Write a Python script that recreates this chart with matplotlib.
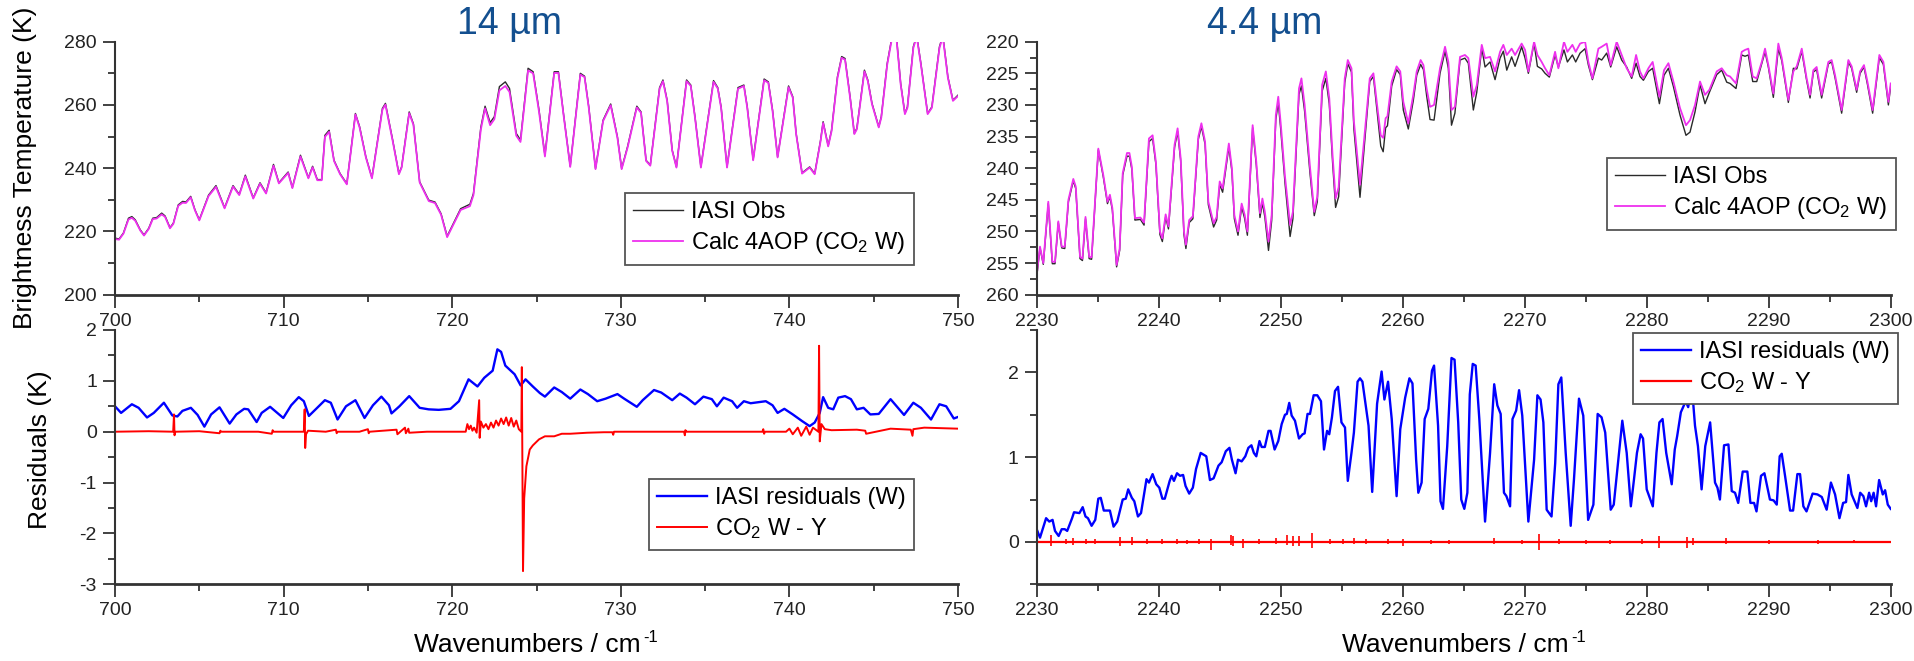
import matplotlib
matplotlib.use('Agg')
import matplotlib.pyplot as plt
from matplotlib.ticker import MultipleLocator

plt.rcParams['font.family'] = ['Liberation Sans', 'DejaVu Sans']
plt.rcParams['mathtext.default'] = 'regular'
plt.rcParams['axes.unicode_minus'] = False

# ---- 14 um brightness temperatures (700-750 cm-1) ----
tl_wn = [700.0, 700.24, 700.5, 700.8, 701.0, 701.2, 701.5, 701.72, 702.0, 702.24,
         702.47, 702.77, 702.97, 703.26, 703.46, 703.75, 704.01, 704.21, 704.49, 704.74,
         705.0, 705.55, 705.99, 706.5, 707.0, 707.37, 707.73, 708.2, 708.6, 708.96,
         709.4, 709.72, 710.27, 710.52, 711.0, 711.47, 711.72, 712.0, 712.26, 712.45,
         712.7, 712.99, 713.35, 713.75, 714.26, 714.51, 714.88, 715.24, 715.86, 716.04,
         716.47, 716.84, 717.0, 717.45, 717.7, 718.07, 718.61, 718.98, 719.34, 719.7,
         720.5, 721.05, 721.26, 721.7, 721.95, 722.25, 722.5, 722.8, 723.15, 723.4,
         723.8, 724.05, 724.5, 724.8, 725.15, 725.5, 726.05, 726.3, 726.6, 727.0,
         727.6, 727.85, 728.1, 728.5, 728.95, 729.4, 729.8, 730.05, 730.4, 730.95,
         731.2, 731.5, 731.75, 732.3, 732.5, 732.75, 733.05, 733.3, 733.9, 734.15,
         734.4, 734.75, 735.5, 735.75, 735.95, 736.3, 736.95, 737.3, 737.5, 737.85,
         738.5, 738.75, 739.0, 739.3, 739.95, 740.2, 740.4, 740.75, 741.2, 741.5,
         741.85, 742.0, 742.3, 742.5, 742.85, 743.1, 743.3, 743.6, 743.85, 744.0,
         744.45, 744.65, 744.9, 745.3, 745.45, 745.8, 746.1, 746.35, 746.6, 746.85,
         747.0, 747.35, 747.55, 747.8, 748.2, 748.45, 748.9, 749.1, 749.4, 749.7,
         750.0]
tl_obs = [217.9, 217.6, 219.5, 224.2, 224.7, 223.7, 220.5, 218.9, 221.0, 224.2,
          224.4, 225.8, 224.9, 221.2, 222.6, 228.4, 229.5, 229.3, 231.1, 226.9,
          223.7, 231.5, 234.5, 227.5, 234.5, 231.7, 237.8, 230.6, 235.4, 232.2,
          241.2, 235.4, 238.8, 233.9, 244.1, 237.0, 240.6, 236.4, 236.4, 250.4,
          252.0, 242.5, 238.3, 235.1, 257.3, 253.1, 243.6, 237.0, 258.9, 260.5,
          248.9, 238.3, 240.4, 257.8, 254.0, 235.7, 229.9, 229.3, 225.6, 218.5,
          227.2, 228.6, 232.0, 253.0, 259.6, 254.4, 256.3, 265.8, 267.3, 265.2,
          251.0, 248.9, 271.6, 270.5, 258.4, 244.1, 270.5, 270.5, 257.3, 240.6,
          270.0, 269.1, 259.4, 239.9, 255.2, 260.3, 249.9, 239.9, 246.8, 259.6,
          257.8, 242.5, 241.0, 265.5, 267.9, 261.5, 245.7, 240.4, 267.9, 266.3,
          256.3, 240.4, 267.7, 265.5, 259.4, 240.4, 265.5, 266.3, 259.4, 242.7,
          268.2, 267.3, 258.4, 243.6, 266.0, 262.6, 251.0, 238.5, 240.4, 238.3,
          248.9, 254.7, 247.1, 252.0, 268.9, 275.3, 274.7, 262.6, 251.0, 252.6,
          271.0, 267.9, 260.5, 253.1, 256.3, 273.1, 282.0, 281.5, 266.8, 257.3,
          259.4, 278.4, 282.0, 273.1, 257.3, 259.4, 278.4, 282.0, 268.9, 261.5,
          263.1]
tl_calc = [217.6, 217.4, 219.3, 223.8, 224.3, 223.4, 220.3, 218.7, 220.8, 223.9,
           224.1, 225.4, 224.6, 221.0, 222.4, 228.1, 229.1, 229.0, 230.8, 226.7,
           223.5, 231.2, 234.1, 227.3, 234.2, 231.5, 237.4, 230.4, 235.1, 232.0,
           240.8, 235.2, 238.5, 233.7, 243.7, 236.8, 240.3, 236.2, 236.2, 249.9,
           251.5, 242.3, 238.1, 234.9, 257.0, 252.8, 243.4, 236.8, 258.5, 260.1,
           248.6, 238.1, 240.2, 257.4, 253.7, 235.5, 229.6, 229.0, 225.3, 218.2,
           226.8, 228.0, 231.5, 252.3, 258.9, 253.6, 255.5, 264.6, 266.0, 264.1,
           250.3, 248.3, 270.9, 270.0, 257.8, 243.7, 270.1, 270.1, 257.0, 240.4,
           269.6, 268.8, 259.1, 239.7, 254.9, 259.9, 249.6, 239.7, 246.5, 259.2,
           257.5, 242.3, 240.8, 265.1, 267.5, 261.2, 245.5, 240.2, 267.5, 266.0,
           256.0, 240.2, 267.3, 265.2, 259.1, 240.2, 265.1, 266.0, 259.1, 242.5,
           267.8, 267.0, 258.1, 243.4, 265.6, 262.3, 250.8, 238.3, 240.2, 238.1,
           248.6, 254.3, 246.9, 251.7, 268.5, 274.9, 274.3, 262.3, 250.8, 252.3,
           270.6, 267.6, 260.2, 252.9, 256.0, 272.7, 281.6, 281.1, 266.5, 257.1,
           259.1, 278.0, 281.6, 272.8, 257.1, 259.1, 278.0, 281.6, 268.6, 261.3,
           262.8]

# ---- 4.4 um brightness temperatures (2230-2300 cm-1) ----
tr_wn = [2230.0, 2230.27, 2230.54, 2230.95, 2231.28, 2231.5, 2231.77, 2232.05, 2232.3, 2232.6,
         2233.0, 2233.2, 2233.55, 2233.75, 2234.0, 2234.3, 2234.5, 2235.05, 2235.46, 2235.8,
         2236.0, 2236.2, 2236.55, 2236.8, 2237.05, 2237.4, 2237.6, 2237.8, 2238.05, 2238.5,
         2238.8, 2239.2, 2239.5, 2239.77, 2240.1, 2240.3, 2240.57, 2240.8, 2241.3, 2241.55,
         2241.8, 2242.07, 2242.23, 2242.5, 2242.8, 2243.25, 2243.5, 2243.8, 2244.07, 2244.5,
         2244.75, 2245.0, 2245.24, 2245.75, 2246.0, 2246.2, 2246.5, 2246.8, 2247.05, 2247.27,
         2247.7, 2248.0, 2248.3, 2248.5, 2248.7, 2249.0, 2249.26, 2249.6, 2249.8, 2250.0,
         2250.35, 2250.77, 2251.0, 2251.5, 2251.7, 2251.96, 2252.4, 2252.75, 2253.0, 2253.4,
         2253.7, 2253.98, 2254.25, 2254.5, 2254.75, 2255.25, 2255.5, 2255.8, 2256.0, 2256.5,
         2257.3, 2257.6, 2257.9, 2258.2, 2258.4, 2258.6, 2258.75, 2259.1, 2259.5, 2259.8,
         2260.05, 2260.46, 2260.87, 2261.15, 2261.47, 2261.7, 2261.96, 2262.24, 2262.57, 2263.06,
         2263.47, 2263.74, 2264.0, 2264.28, 2264.7, 2265.1, 2265.38, 2265.79, 2266.07, 2266.48,
         2266.75, 2267.16, 2267.57, 2267.98, 2268.25, 2268.53, 2268.93, 2269.21, 2269.75, 2270.03,
         2270.3, 2270.77, 2271.04, 2271.39, 2271.67, 2272.02, 2272.49, 2272.76, 2273.22, 2273.5,
         2273.91, 2274.18, 2274.54, 2274.95, 2275.22, 2275.55, 2276.04, 2276.31, 2276.72, 2277.05,
         2277.54, 2277.95, 2278.36, 2278.77, 2279.13, 2279.45, 2279.73, 2280.14, 2280.49, 2281.04,
         2281.42, 2281.78, 2282.19, 2282.73, 2283.22, 2283.55, 2283.96, 2284.37, 2284.78, 2285.14,
         2285.74, 2286.15, 2286.56, 2286.83, 2287.32, 2287.79, 2288.06, 2288.33, 2288.69, 2289.02,
         2289.43, 2289.7, 2289.97, 2290.38, 2290.79, 2291.07, 2291.61, 2292.02, 2292.3, 2292.71,
         2293.11, 2293.39, 2293.66, 2293.93, 2294.34, 2294.89, 2295.16, 2295.44, 2295.98, 2296.53,
         2296.8, 2297.21, 2297.49, 2297.81, 2298.09, 2298.52, 2299.07, 2299.4, 2299.81, 2300.0]
tr_calc = [256.9, 252.4, 255.0, 245.3, 254.8, 254.8, 248.4, 252.4, 252.4, 245.0,
           241.7, 242.9, 254.0, 254.3, 247.7, 254.0, 254.1, 236.9, 241.1, 245.3,
           244.2, 246.3, 255.3, 252.7, 240.8, 237.6, 237.6, 239.8, 247.9, 247.8,
           248.6, 235.3, 234.8, 239.0, 250.0, 251.1, 247.3, 249.2, 236.3, 233.7,
           238.4, 250.0, 252.1, 248.2, 247.6, 235.0, 232.9, 235.8, 245.3, 248.7,
           247.7, 242.1, 243.2, 236.1, 240.0, 247.4, 250.0, 245.6, 247.4, 250.0,
           233.2, 239.0, 247.1, 244.8, 246.9, 251.6, 247.4, 231.6, 228.7, 232.9,
           241.3, 249.0, 246.9, 227.4, 225.8, 230.0, 239.8, 246.9, 244.5, 226.8,
           224.7, 228.9, 237.9, 244.8, 243.0, 225.8, 222.9, 224.2, 232.6, 242.6,
           225.8, 225.0, 230.0, 234.8, 235.2, 232.1, 231.8, 226.3, 223.9, 224.7,
           229.5, 232.9, 228.4, 224.7, 222.9, 223.7, 227.4, 230.3, 230.0, 224.2,
           220.8, 223.2, 230.8, 230.3, 222.4, 222.1, 222.6, 228.7, 226.9, 220.5,
           222.6, 222.4, 224.7, 221.6, 220.5, 222.1, 221.1, 222.1, 220.3, 221.3,
           224.7, 220.0, 222.1, 223.2, 224.2, 225.3, 221.6, 224.2, 220.0, 221.6,
           220.5, 221.6, 220.3, 220.0, 223.2, 225.8, 221.1, 220.8, 220.3, 223.7,
           220.0, 222.1, 224.2, 225.5, 222.1, 224.7, 225.8, 224.2, 223.2, 228.7,
           224.5, 223.4, 226.3, 230.5, 233.2, 232.4, 230.0, 226.3, 228.4, 227.6,
           224.7, 224.2, 225.3, 225.5, 226.6, 221.6, 221.3, 221.1, 225.5, 225.8,
           223.2, 221.1, 223.7, 228.2, 220.3, 222.6, 229.2, 224.7, 223.9, 221.1,
           225.8, 228.4, 224.5, 224.0, 228.4, 223.2, 222.9, 225.3, 230.8, 222.9,
           223.9, 227.6, 224.7, 223.7, 226.3, 230.8, 222.1, 223.2, 229.5, 226.6]
tr_obs = [257.2, 252.6, 255.2, 245.6, 255.1, 255.1, 248.6, 252.6, 252.7, 245.3,
          242.0, 243.2, 254.3, 254.6, 248.0, 254.3, 254.4, 237.1, 241.4, 245.6,
          244.5, 246.6, 255.6, 253.0, 241.1, 238.1, 238.1, 240.2, 248.2, 248.1,
          249.0, 235.8, 235.3, 239.4, 250.5, 251.6, 247.7, 249.6, 236.7, 234.2,
          238.8, 250.5, 252.7, 248.6, 248.0, 235.4, 233.4, 236.2, 245.8, 249.3,
          248.2, 242.6, 243.8, 236.6, 240.5, 248.0, 250.6, 246.1, 248.0, 250.6,
          233.6, 239.5, 247.8, 245.5, 247.7, 253.0, 248.3, 232.3, 229.6, 233.8,
          242.3, 250.8, 248.0, 228.3, 227.0, 231.0, 240.8, 247.5, 245.3, 227.8,
          225.8, 229.8, 239.0, 246.2, 244.5, 226.5, 223.5, 224.8, 233.8, 244.6,
          226.3, 225.5, 231.0, 236.5, 237.4, 233.6, 233.3, 227.0, 224.4, 225.2,
          230.8, 233.8, 229.3, 225.3, 223.6, 224.4, 228.5, 232.3, 232.4, 225.0,
          221.5, 224.2, 233.2, 231.3, 222.9, 222.6, 223.4, 230.8, 228.0, 221.0,
          224.0, 223.2, 226.0, 222.6, 221.5, 224.5, 222.4, 223.9, 220.8, 222.6,
          225.0, 220.2, 223.9, 224.3, 225.0, 225.6, 222.1, 224.0, 221.3, 223.2,
          222.1, 223.2, 221.8, 221.1, 223.7, 226.0, 222.6, 222.9, 221.8, 224.0,
          220.8, 222.9, 224.0, 225.8, 223.4, 225.5, 226.1, 224.7, 224.2, 229.8,
          225.3, 224.2, 227.1, 231.6, 234.8, 234.3, 231.1, 226.8, 229.8, 228.0,
          225.2, 224.5, 226.4, 226.6, 227.4, 222.1, 222.3, 222.1, 226.3, 226.3,
          223.5, 221.6, 224.0, 228.8, 221.1, 223.0, 229.6, 224.2, 224.3, 221.5,
          226.1, 228.9, 224.8, 224.4, 228.9, 223.5, 223.2, 225.7, 231.3, 223.2,
          224.2, 228.0, 225.0, 224.0, 226.7, 231.3, 222.5, 223.6, 230.0, 227.0]

# ---- 14 um residuals ----
bl_wn = [700.0, 700.36, 701.0, 701.4, 701.9, 702.3, 702.9, 703.4, 703.7, 704.0,
         704.5, 704.9, 705.3, 705.7, 706.2, 706.8, 707.2, 707.66, 707.9, 708.4,
         708.7, 709.2, 709.98, 710.45, 710.9, 711.2, 711.5, 711.9, 712.45, 712.8,
         713.2, 713.7, 714.26, 714.8, 715.3, 715.8, 716.25, 716.4, 716.87, 717.45,
         718.07, 718.6, 719.2, 719.9, 720.4, 720.97, 721.5, 721.9, 722.4, 722.68,
         722.9, 723.15, 723.7, 724.06, 724.35, 724.78, 725.2, 725.5, 726.05, 726.5,
         727.0, 727.6, 728.05, 728.6, 729.1, 729.8, 730.2, 730.95, 731.3, 731.97,
         732.4, 733.05, 733.5, 733.9, 734.4, 734.9, 735.4, 735.7, 736.1, 736.6,
         736.9, 737.3, 737.7, 738.6, 739.0, 739.3, 739.7, 740.2, 740.75, 741.2,
         741.5, 741.8, 742.0, 742.3, 742.6, 742.9, 743.3, 743.65, 744.0, 744.4,
         744.8, 745.3, 746.0, 746.8, 747.35, 747.8, 748.4, 748.9, 749.3, 749.75,
         750.0]
bl_iasi = [0.50, 0.37, 0.54, 0.47, 0.28, 0.37, 0.57, 0.32, 0.30, 0.41,
           0.47, 0.33, 0.10, 0.34, 0.48, 0.16, 0.34, 0.45, 0.44, 0.19,
           0.37, 0.49, 0.27, 0.52, 0.68, 0.60, 0.31, 0.44, 0.62, 0.57,
           0.24, 0.50, 0.62, 0.27, 0.52, 0.69, 0.52, 0.36, 0.50, 0.70,
           0.47, 0.44, 0.43, 0.45, 0.60, 1.03, 0.89, 1.06, 1.20, 1.62,
           1.57, 1.30, 1.13, 0.91, 1.03, 0.89, 0.76, 0.69, 0.87, 0.78,
           0.65, 0.83, 0.74, 0.60, 0.65, 0.74, 0.65, 0.49, 0.62, 0.82,
           0.77, 0.62, 0.75, 0.67, 0.54, 0.69, 0.64, 0.50, 0.67, 0.60,
           0.47, 0.60, 0.56, 0.60, 0.52, 0.37, 0.45, 0.34, 0.21, 0.11,
           0.18, 0.37, 0.68, 0.47, 0.44, 0.67, 0.70, 0.64, 0.44, 0.47,
           0.34, 0.35, 0.64, 0.33, 0.57, 0.47, 0.24, 0.54, 0.50, 0.26,
           0.29]
bl_diff_wn = [700.0, 702.0, 703.45, 703.5, 703.53, 703.58, 705.0, 706.2, 706.25, 706.3,
              708.5, 709.3, 709.35, 709.4, 711.2, 711.25, 711.28, 711.33, 711.45, 712.5,
              713.1, 713.15, 713.2, 714.5, 715.0, 715.05, 715.1, 716.7, 716.75, 717.2,
              717.25, 717.4, 717.45, 718.5, 720.8, 720.9, 721.0, 721.1, 721.2, 721.3,
              721.45, 721.6, 721.63, 721.7, 721.85, 722.0, 722.15, 722.3, 722.45, 722.6,
              722.75, 722.9, 723.05, 723.2, 723.35, 723.5, 723.65, 723.8, 723.95, 724.1,
              724.13, 724.2, 724.27, 724.4, 724.6, 724.78, 725.15, 725.5, 726.05, 726.5,
              727.0, 728.0, 729.0, 729.5, 729.55, 729.6, 733.75, 733.8, 733.83, 733.9,
              738.4, 738.45, 738.5, 738.55, 739.8, 740.0, 740.2, 740.5, 740.7, 741.0,
              741.2, 741.4, 741.72, 741.76, 741.8, 741.9, 742.1, 742.5, 744.0, 744.5,
              744.55, 746.0, 747.2, 747.3, 747.35, 748.0, 749.0, 750.0]
bl_diff = [0.0, 0.01, 0.0, 0.34, -0.07, 0.0, 0.01, -0.03, 0.02, 0.0,
           0.0, -0.04, 0.03, 0.0, 0.0, 0.44, -0.32, -0.05, 0.02, 0.0,
           0.04, -0.03, 0.0, 0.0, 0.05, -0.03, 0.0, 0.04, -0.05, 0.08,
           -0.03, 0.06, -0.02, 0.0, 0.0, 0.15, 0.05, 0.12, 0.02, 0.08,
           -0.02, 0.62, -0.12, 0.2, 0.08, 0.15, 0.05, 0.18, 0.08, 0.22,
           0.12, 0.26, 0.15, 0.28, 0.12, 0.27, 0.1, 0.22, 0.05, 0.0,
           1.27, -2.74, -1.31, -0.68, -0.35, -0.27, -0.15, -0.09, -0.09, -0.04,
           -0.04, -0.02, -0.01, -0.01, -0.06, 0.0, 0.0, -0.07, 0.03, 0.0,
           0.0, 0.05, -0.04, 0.0, 0.0, 0.06, -0.05, 0.08, -0.08, 0.1,
           -0.06, 0.08, 0.0, 1.69, -0.19, 0.15, 0.05, 0.03, 0.04, 0.02,
           -0.04, 0.06, 0.04, -0.08, 0.05, 0.08, 0.07, 0.06]

# ---- 4.4 um residuals ----
br_wn = [2230.0, 2230.27, 2230.77, 2231.03, 2231.3, 2231.5, 2231.8, 2232.05, 2232.3, 2232.5,
         2232.9, 2233.06, 2233.5, 2233.77, 2234.0, 2234.2, 2234.5, 2234.8, 2235.05, 2235.25,
         2235.5, 2236.0, 2236.3, 2236.6, 2237.05, 2237.3, 2237.5, 2237.8, 2238.0, 2238.3,
         2238.55, 2239.0, 2239.2, 2239.5, 2239.8, 2240.05, 2240.3, 2240.5, 2240.9, 2241.06,
         2241.25, 2241.5, 2241.75, 2242.0, 2242.2, 2242.5, 2242.8, 2243.06, 2243.44, 2243.9,
         2244.2, 2244.5, 2244.9, 2245.16, 2245.5, 2245.8, 2246.0, 2246.3, 2246.5, 2246.8,
         2247.1, 2247.35, 2247.6, 2247.8, 2248.0, 2248.26, 2248.44, 2248.7, 2249.0, 2249.17,
         2249.5, 2249.8, 2250.08, 2250.35, 2250.5, 2250.7, 2250.9, 2251.17, 2251.5, 2251.8,
         2251.96, 2252.2, 2252.4, 2252.7, 2253.0, 2253.3, 2253.55, 2253.8, 2253.98, 2254.2,
         2254.45, 2254.7, 2254.98, 2255.27, 2255.5, 2255.8, 2256.0, 2256.3, 2256.5, 2256.7,
         2257.2, 2257.5, 2257.9, 2258.27, 2258.5, 2258.8, 2259.1, 2259.5, 2259.8, 2260.2,
         2260.55, 2260.8, 2261.1, 2261.28, 2261.55, 2261.8, 2262.1, 2262.4, 2262.57, 2262.9,
         2263.1, 2263.3, 2263.65, 2264.0, 2264.25, 2264.55, 2264.8, 2265.05, 2265.3, 2265.5,
         2265.74, 2265.98, 2266.28, 2266.75, 2267.16, 2267.5, 2267.76, 2268.03, 2268.3, 2268.5,
         2268.8, 2269.0, 2269.3, 2269.54, 2269.8, 2270.3, 2270.57, 2270.77, 2271.04, 2271.3,
         2271.53, 2271.8, 2272.2, 2272.5, 2272.76, 2273.0, 2273.36, 2273.77, 2274.04, 2274.45,
         2274.8, 2275.2, 2275.63, 2275.98, 2276.3, 2276.6, 2277.05, 2277.3, 2278.0, 2278.36,
         2278.7, 2278.96, 2279.2, 2279.5, 2279.7, 2280.0, 2280.5, 2280.8, 2281.04, 2281.3,
         2281.6, 2282.05, 2282.3, 2282.5, 2282.8, 2283.2, 2283.4, 2283.7, 2283.96, 2284.2,
         2284.5, 2284.8, 2285.2, 2285.6, 2285.8, 2286.0, 2286.34, 2286.7, 2286.97, 2287.24,
         2287.5, 2287.87, 2288.25, 2288.5, 2288.8, 2289.0, 2289.37, 2289.65, 2290.1, 2290.4,
         2290.66, 2290.9, 2291.07, 2291.34, 2291.75, 2292.0, 2292.35, 2292.57, 2292.84, 2293.1,
         2293.6, 2294.0, 2294.35, 2294.75, 2295.1, 2295.44, 2295.8, 2296.1, 2296.34, 2296.53,
         2296.8, 2297.27, 2297.5, 2297.76, 2297.98, 2298.23, 2298.4, 2298.6, 2298.8, 2299.05,
         2299.35, 2299.54, 2299.76, 2300.0]
br_iasi = [0.15, 0.05, 0.28, 0.24, 0.26, 0.13, 0.07, 0.15, 0.15, 0.13,
           0.28, 0.35, 0.34, 0.41, 0.30, 0.28, 0.19, 0.26, 0.51, 0.52,
           0.37, 0.37, 0.18, 0.24, 0.50, 0.51, 0.62, 0.52, 0.48, 0.30,
           0.34, 0.74, 0.70, 0.80, 0.68, 0.64, 0.51, 0.51, 0.72, 0.78,
           0.72, 0.81, 0.78, 0.79, 0.66, 0.57, 0.64, 0.86, 1.05, 1.01,
           0.73, 0.75, 0.90, 0.94, 1.07, 1.11, 0.97, 0.81, 0.97, 0.95,
           1.01, 1.11, 1.14, 1.05, 1.01, 1.19, 1.12, 1.12, 1.31, 1.31,
           1.09, 1.19, 1.39, 1.50, 1.51, 1.64, 1.49, 1.43, 1.22, 1.27,
           1.28, 1.51, 1.51, 1.73, 1.73, 1.66, 1.09, 1.31, 1.27, 1.47,
           1.78, 1.83, 1.41, 1.35, 0.72, 1.05, 1.29, 1.89, 1.93, 1.89,
           1.37, 0.59, 1.63, 2.01, 1.68, 1.89, 1.45, 0.54, 1.33, 1.70,
           1.93, 1.87, 0.97, 0.58, 0.70, 1.45, 1.57, 2.02, 2.08, 1.37,
           0.48, 0.39, 1.13, 2.17, 2.15, 1.41, 0.50, 0.39, 0.58, 1.74,
           2.10, 2.08, 1.45, 0.24, 1.05, 1.86, 1.61, 1.51, 0.58, 0.54,
           0.42, 1.45, 1.55, 1.79, 1.49, 0.24, 0.66, 0.97, 1.73, 1.68,
           1.41, 0.38, 0.30, 0.93, 1.86, 1.94, 1.05, 0.19, 0.74, 1.69,
           1.49, 0.26, 0.44, 1.51, 1.47, 1.29, 0.38, 0.44, 1.43, 1.05,
           0.42, 0.74, 1.05, 1.27, 1.22, 0.62, 0.42, 1.05, 1.41, 1.45,
           1.05, 0.68, 1.09, 1.25, 1.53, 1.66, 1.59, 1.84, 1.37, 1.13,
           0.62, 1.13, 1.41, 0.70, 0.64, 0.50, 1.14, 1.15, 0.60, 0.58,
           0.46, 0.83, 0.83, 0.46, 0.46, 0.36, 0.78, 0.81, 0.50, 0.49,
           0.44, 1.01, 1.04, 0.78, 0.37, 0.37, 0.80, 0.80, 0.42, 0.36,
           0.57, 0.56, 0.53, 0.38, 0.70, 0.56, 0.28, 0.46, 0.47, 0.79,
           0.56, 0.40, 0.58, 0.54, 0.42, 0.58, 0.48, 0.58, 0.42, 0.73,
           0.56, 0.61, 0.44, 0.39]
br_diff_wn = [2230.0, 2300.0]
br_diff = [0.0, 0.0]
br_spike_wn = [2231.2, 2232.4, 2233.0, 2234.0, 2234.8, 2236.8, 2237.8, 2239.0, 2240.3, 2241.5,
               2242.3, 2243.3, 2244.3, 2245.9, 2246.1, 2246.9, 2248.2, 2249.6, 2250.5, 2251.0,
               2251.5, 2252.6, 2254.0, 2255.1, 2256.0, 2257.0, 2258.8, 2260.0, 2262.3, 2263.8,
               2267.5, 2269.8, 2271.2, 2272.8, 2275.0, 2277.0, 2279.6, 2281.0, 2283.3, 2283.8,
               2286.5, 2290.0, 2294.0, 2297.0]
br_spike_lo = [-0.05, -0.02, -0.04, -0.02, -0.03, -0.05, -0.04, -0.02, -0.03, -0.02,
               -0.03, -0.03, -0.09, -0.04, -0.05, -0.07, -0.02, -0.03, -0.04, -0.05,
               -0.05, -0.07, -0.02, -0.02, -0.03, -0.02, -0.02, -0.05, -0.02, -0.02,
               -0.03, -0.02, -0.10, -0.02, -0.02, -0.02, -0.02, -0.07, -0.07, -0.04,
               -0.03, -0.02, -0.02, -0.01]
br_spike_hi = [0.08, 0.03, 0.05, 0.03, 0.03, 0.06, 0.06, 0.03, 0.03, 0.03,
               0.02, 0.04, 0.03, 0.08, 0.07, 0.04, 0.03, 0.05, 0.08, 0.07,
               0.07, 0.10, 0.03, 0.04, 0.05, 0.03, 0.03, 0.04, 0.02, 0.02,
               0.05, 0.02, 0.09, 0.03, 0.02, 0.02, 0.03, 0.07, 0.06, 0.05,
               0.05, 0.02, 0.02, 0.02]

W, H = 1915, 661
fig = plt.figure(figsize=(W / 100, H / 100), dpi=100)

# axes boxes placed in pixels
ax_tl = fig.add_axes([115 / W, 1 - 294.7 / H, 843 / W, 253 / H])
ax_tr = fig.add_axes([1036.7 / W, 1 - 294.7 / H, 854 / W, 253 / H])
ax_bl = fig.add_axes([115 / W, 1 - 584.3 / H, 843 / W, 254.3 / H])
ax_br = fig.add_axes([1036.7 / W, 1 - 584.3 / H, 854 / W, 254.3 / H])


def style(ax, xmaj, xmin, ymaj, ymin):
    for s in ['top', 'right']:
        ax.spines[s].set_visible(False)
    ax.spines['left'].set_linewidth(1.5)
    ax.spines['bottom'].set_linewidth(2.0)
    ax.spines['left'].set_color('#333333')
    ax.spines['bottom'].set_color('#333333')
    ax.xaxis.set_major_locator(MultipleLocator(xmaj))
    ax.xaxis.set_minor_locator(MultipleLocator(xmin))
    ax.yaxis.set_major_locator(MultipleLocator(ymaj))
    ax.yaxis.set_minor_locator(MultipleLocator(ymin))
    ax.tick_params(which='major', direction='out', length=9, width=1.3, color='#333333',
                   labelsize=14, labelcolor='#222222', pad=4)
    ax.tick_params(which='minor', direction='out', length=5, width=1.3, color='#333333')


def add_legend(ax, x, y):
    leg = ax.legend(loc='upper left', bbox_to_anchor=(x / W, 1 - y / H), bbox_transform=fig.transFigure,
                    fontsize=17, frameon=True, fancybox=False, framealpha=1, edgecolor='#555555',
                    borderaxespad=0, borderpad=0.35, labelspacing=0.3, handlelength=2.1,
                    handletextpad=0.35)
    leg.get_frame().set_linewidth(1.3)


def xlabel(cx, cy):
    # "Wavenumbers / cm" with a small hyphen "-1" raised after it
    renderer = fig.canvas.get_renderer()
    t = fig.text(cx / W, 1 - cy / H, 'Wavenumbers / cm', ha='center', va='center', fontsize=19)
    s = fig.text(0, 0, '-1', ha='left', va='center', fontsize=12)
    bb = t.get_window_extent(renderer)
    sw = s.get_window_extent(renderer).width
    t.set_x((cx - sw / 2 - 1) / W)
    s.set_position(((cx + bb.width / 2 - sw / 2 + 1) / W, 1 - (cy - 8) / H))


obs_color = '#2a2a2a'
calc_color = '#ee30ee'

# top left
ax_tl.plot(tl_wn, tl_obs, color=obs_color, lw=1.0, label='IASI Obs')
ax_tl.plot(tl_wn, tl_calc, color=calc_color, lw=1.3, label='Calc 4AOP (CO$_2$ W)')
ax_tl.set_xlim(700, 750)
ax_tl.set_ylim(200, 280)
style(ax_tl, 10, 5, 20, 10)
add_legend(ax_tl, 625, 193)

# top right (inverted)
ax_tr.plot(tr_wn, tr_obs, color=obs_color, lw=1.0, label='IASI Obs')
ax_tr.plot(tr_wn, tr_calc, color=calc_color, lw=1.3, label='Calc 4AOP (CO$_2$ W)')
ax_tr.set_xlim(2230, 2300)
ax_tr.set_ylim(260, 220)
style(ax_tr, 10, 5, 5, 2.5)
add_legend(ax_tr, 1607, 158)

# bottom left
ax_bl.plot(bl_wn, bl_iasi, color='#0000ff', lw=1.7, label='IASI residuals (W)')
ax_bl.plot(bl_diff_wn, bl_diff, color='#ff0000', lw=1.4, label='CO$_2$ W - Y')
ax_bl.set_xlim(700, 750)
ax_bl.set_ylim(-3, 2)
style(ax_bl, 10, 5, 1, 0.5)
add_legend(ax_bl, 649, 479)

# bottom right
ax_br.plot(br_wn, br_iasi, color='#0000ff', lw=1.7, label='IASI residuals (W)')
ax_br.plot(br_diff_wn, br_diff, color='#ff0000', lw=1.6, label='CO$_2$ W - Y')
ax_br.vlines(br_spike_wn, br_spike_lo, br_spike_hi, color='#ff0000', lw=1.2)
ax_br.set_xlim(2230, 2300)
ax_br.set_ylim(-0.5, 2.5)
style(ax_br, 10, 5, 1, 0.5)
ax_br.set_yticks([0, 1, 2])
add_legend(ax_br, 1633, 333)

# titles and axis labels
title_color = '#134f8f'
fig.text(510 / W, 1 - 24 / H, '14 µm', ha='center', va='center', fontsize=27, color=title_color)
fig.text(1265 / W, 1 - 24 / H, '4.4 µm', ha='center', va='center', fontsize=27, color=title_color)
fig.text(25 / W, 1 - 168 / H, 'Brightness Temperature (K)', rotation=90, ha='center', va='center',
         fontsize=19)
fig.text(40 / W, 1 - 450 / H, 'Residuals (K)', rotation=90, ha='center', va='center', fontsize=19)
xlabel(536, 645)
xlabel(1464, 645)

fig.savefig('out.png', dpi=100)
